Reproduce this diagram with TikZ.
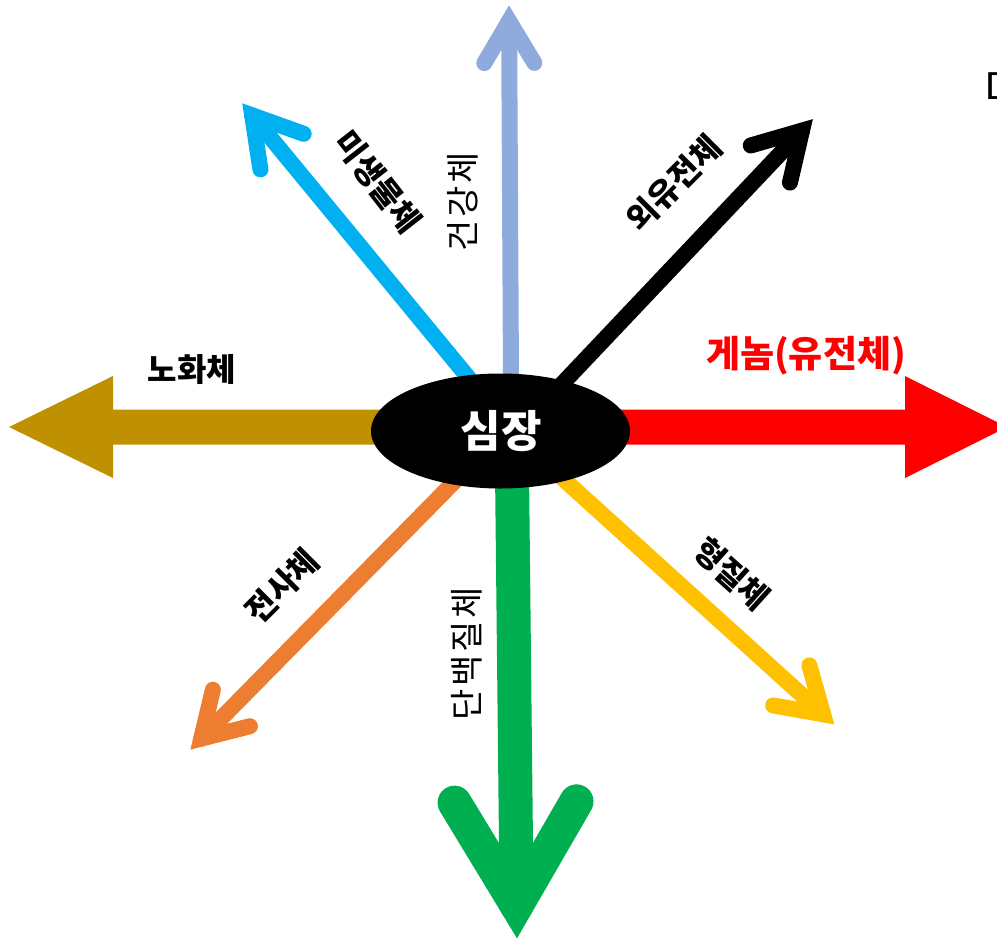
\documentclass[tikz,border=0pt]{standalone}
\usepackage{fontspec}
\newfontfamily\kr{Noto Sans CJK KR}
\newfontfamily\krsp{Noto Sans CJK KR}[LetterSpace=8]
\newfontfamily\lat{Liberation Sans}
\usetikzlibrary{calc,shapes.geometric}
\definecolor{cgold}{HTML}{BF9000}
\definecolor{cblue}{HTML}{8FAADC}
\definecolor{ccyan}{HTML}{00B0F0}
\definecolor{cgreen}{HTML}{00B050}
\definecolor{corange}{HTML}{ED7D31}
\definecolor{cyellow}{HTML}{FFC000}
\definecolor{cred}{HTML}{FF0000}
% #1 colour, #2 width, #3 start, #4 tip, #5 miter offset, #6 arm length, #7 arm half-width
\newcommand\openarrow[7]{%
  \coordinate (V) at ($(#4)!#5!(#3)$);
  \coordinate (P) at ($(V)!#6!(#3)$);
  \draw[#1, line width=#2, line cap=round] (#3) -- (V);
  \draw[#1, line width=#2, line cap=round, line join=miter]
    ($(P)!#7!90:(V)$) -- (V) -- ($(P)!#7!-90:(V)$);
}
\tikzset{
  boldlbl/.style={font=\kr\bfseries\fontsize{32}{32}\selectfont, inner sep=0pt, text=black},
  reglbl/.style={font=\krsp\fontsize{34}{34}\selectfont, inner sep=0pt, text=black},
}
\begin{document}
\begin{tikzpicture}[x=1pt,y=-1pt]
\useasboundingbox (0,0) rectangle (997,940);
\clip (0,0) rectangle (997,940);

% coordinates
\coordinate (sBlue) at (511,380);   \coordinate (tBlue) at (509,5);
\coordinate (sCyan) at (472,382);   \coordinate (tCyan) at (242,103);
\coordinate (sBlack) at (562,384);  \coordinate (tBlack) at (813,119);
\coordinate (sGreen) at (512,470);  \coordinate (tGreen) at (517,938);
\coordinate (sOrange) at (458,478); \coordinate (tOrange) at (190,750);
\coordinate (sYellow) at (560,476); \coordinate (tYellow) at (835,725);

% thick block arrows
\fill[cred] (600,409.5) -- (905,409.5) -- (905,376) -- (1007,427) -- (905,478)
  -- (905,444.5) -- (600,444.5) -- cycle;
\fill[cgold] (400,409.5) -- (113,409.5) -- (113,376) -- (9,427) -- (113,478)
  -- (113,444.5) -- (400,444.5) -- cycle;

% open arrows
\openarrow{cblue}{16pt}{sBlue}{tBlue}{16pt}{42pt}{25pt}
\openarrow{ccyan}{16pt}{sCyan}{tCyan}{16pt}{47pt}{28pt}
\openarrow{black}{16pt}{sBlack}{tBlack}{16pt}{46pt}{27pt}
\openarrow{corange}{16pt}{sOrange}{tOrange}{16pt}{43pt}{26pt}
\openarrow{cyellow}{16pt}{sYellow}{tYellow}{16pt}{43pt}{27pt}
\openarrow{cgreen}{34pt}{sGreen}{tGreen}{33pt}{103pt}{61pt}

% centre
\node[ellipse, fill=black, minimum width=259pt, minimum height=115pt, inner sep=0pt]
  (heart) at (500.5,431) {};
\node[font=\kr\bfseries\fontsize{44}{44}\selectfont, text=white, inner sep=0pt]
  (heartlbl) at (501,431) {심장};

% labels
\node[boldlbl, text=cred, font=\kr\bfseries\fontsize{37}{37}\selectfont] (lgenome) at (806,356) {게놈(유전체)};
\node[boldlbl] (laging) at (192,370) {노화체};
\node[boldlbl, rotate=-52] (lmicro) at (378,182) {미생물체};
\node[reglbl, rotate=90] (lhealth) at (463,202) {건강체};
\node[boldlbl, rotate=45] (lepi) at (674,183) {외유전체};
\node[boldlbl, rotate=45] (ltrans) at (282,586) {전사체};
\node[reglbl, rotate=90] (lprot) at (467,654) {단백질체};
\node[boldlbl, rotate=-42] (lphen) at (732,574) {형질체};

% partial letter at right edge
\node[font=\lat\fontsize{39}{39}\selectfont, anchor=west, inner sep=0pt] (cut) at (985,86) {D};
\end{tikzpicture}
\end{document}
